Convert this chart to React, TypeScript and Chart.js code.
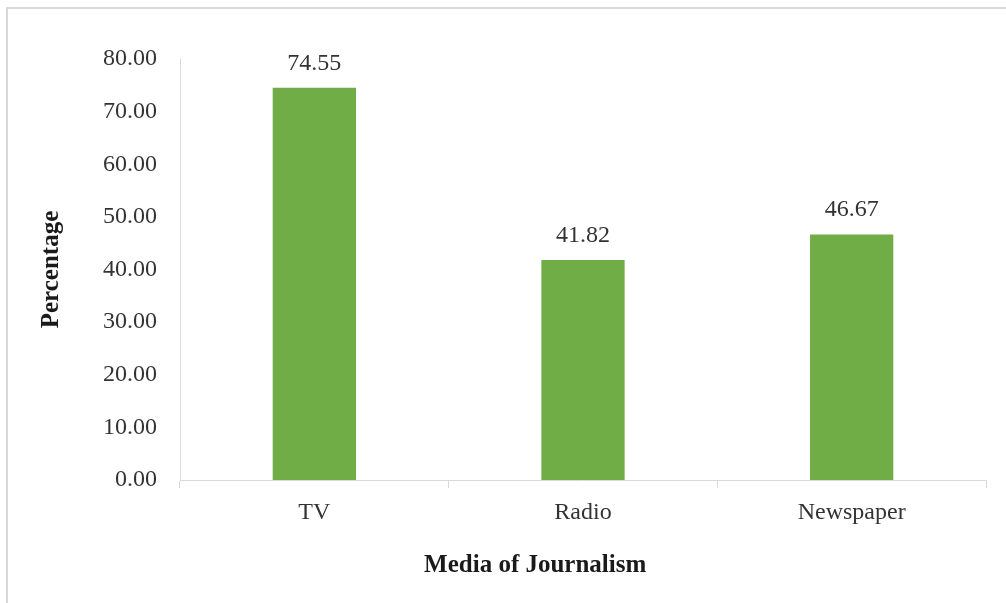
import React, { useEffect, useRef } from "react";
import { Chart, registerables } from "chart.js";

Chart.register(...registerables);

const categories = ["TV", "Radio", "Newspaper"];
const percentages = [74.55, 41.82, 46.67];
const yTickMin = 0;
const yTickMax = 80;
const yTickStep = 10;
const xAxisTitle = "Media of Journalism";
const yAxisTitle = "Percentage";

const FONT = "'Liberation Serif', 'Times New Roman', serif";
const TEXT = "#333333";
const LINE = "#d9d9d9";
const GREEN = "#70AD47";

const valueLabels = {
  id: "valueLabels",
  afterDatasetsDraw(chart: any) {
    const ctx = chart.ctx;
    const meta = chart.getDatasetMeta(0);
    ctx.save();
    ctx.font = `24px ${FONT}`;
    ctx.fillStyle = TEXT;
    ctx.textAlign = "center";
    ctx.textBaseline = "alphabetic";
    meta.data.forEach((bar: any, i: number) => {
      const v = chart.data.datasets[0].data[i] as number;
      ctx.fillText(v.toFixed(2), bar.x, bar.y - 18);
    });
    ctx.restore();
  },
};

const xTitlePlugin = {
  id: "xTitlePlugin",
  afterDraw(chart: any) {
    const ctx = chart.ctx;
    ctx.save();
    ctx.font = `bold 25px ${FONT}`;
    ctx.fillStyle = "#1a1a1a";
    ctx.textAlign = "center";
    ctx.textBaseline = "middle";
    ctx.fillText(xAxisTitle, chart.width * 0.532, chart.height * 0.938);
    ctx.restore();
  },
};

export default function App() {
  const ref = useRef<HTMLCanvasElement>(null);

  useEffect(() => {
    document.body.style.margin = "0";
    const chart = new Chart(ref.current as HTMLCanvasElement, {
      type: "bar",
      data: {
        labels: categories,
        datasets: [
          {
            data: percentages,
            backgroundColor: GREEN,
            borderWidth: 0,
            barPercentage: 0.31,
            categoryPercentage: 1,
          },
        ],
      },
      options: {
        animation: false,
        responsive: false,
        maintainAspectRatio: false,
        layout: { padding: { top: 59, right: 20, left: 0, bottom: 0 } },
        plugins: {
          legend: { display: false },
          tooltip: { enabled: false },
        },
        scales: {
          x: {
            offset: true,
            grid: {
              display: true,
              drawOnChartArea: false,
              drawTicks: true,
              tickLength: 8,
              color: LINE,
              offset: true,
            },
            border: { display: true, color: LINE, width: 1 },
            ticks: {
              color: TEXT,
              font: { family: FONT, size: 24 },
              padding: 10,
            },
            afterFit(scale: any) {
              scale.height = 123;
            },
          },
          y: {
            min: yTickMin,
            max: yTickMax,
            grid: { display: false, drawTicks: false },
            border: { display: true, color: LINE, width: 1 },
            ticks: {
              stepSize: yTickStep,
              color: TEXT,
              font: { family: FONT, size: 24 },
              padding: 23,
              callback: (v: any) => Number(v).toFixed(2),
            },
            title: {
              display: true,
              text: yAxisTitle,
              color: "#1a1a1a",
              font: { family: FONT, size: 25, weight: "bold" },
              padding: { top: 37, bottom: 0 },
            },
            afterFit(scale: any) {
              scale.width = 180;
            },
          },
        },
      },
      plugins: [valueLabels, xTitlePlugin],
    });
    return () => chart.destroy();
  }, []);

  return (
    <div style={{ position: "fixed", left: 0, top: 0, width: 1006, height: 603, background: "#fff", overflow: "hidden" }}>
      <div
        style={{
          position: "absolute",
          left: 6,
          top: 7,
          width: 1100,
          height: 700,
          border: `2px solid ${LINE}`,
          boxSizing: "border-box",
        }}
      />
      <canvas ref={ref} width={1006} height={603} style={{ position: "absolute", left: 0, top: 0 }} />
    </div>
  );
}
